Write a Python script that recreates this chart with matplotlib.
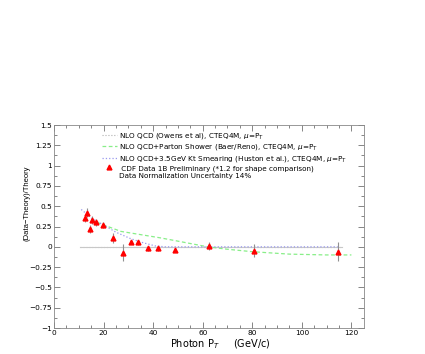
import numpy as np
import matplotlib.pyplot as plt

# CDF data (x1.2) - photon pT and (Data-Theory)/Theory
pt = [12.4, 13.5, 14.6, 15.5, 17.0, 19.8, 23.8, 27.8, 31.0, 33.9, 37.9, 41.9, 48.9, 62.4, 80.7, 114.6]
val = [0.35, 0.42, 0.215, 0.33, 0.30, 0.27, 0.11, -0.07, 0.06, 0.055, -0.02, -0.02, -0.04, 0.015, -0.05, -0.06]
err = [0.04, 0.055, 0.05, 0.05, 0.04, 0.04, 0.06, 0.11, 0.03, 0.03, 0.03, 0.03, 0.025, 0.05, 0.08, 0.12]

# NLO QCD (Owens) reference
owens_pt = [10.5, 116.3]
owens_val = [0.0, 0.0]

# parton shower (Baer/Reno)
ps_pt = [15, 20, 27, 35, 43, 50, 62, 70, 80, 95, 110, 120]
ps_val = [0.33, 0.27, 0.19, 0.15, 0.11, 0.07, 0.0, -0.03, -0.06, -0.09, -0.10, -0.10]

# kt smearing (Huston)
kt_pt = [11.0, 13, 15, 17.5, 20, 25, 31, 36, 41, 45, 50, 70, 90, 114.5]
kt_val = [0.46, 0.41, 0.36, 0.31, 0.27, 0.18, 0.10, 0.05, 0.01, 0.0, 0.0, 0.0, 0.0, 0.0]

fig = plt.figure(figsize=(4.25, 3.54), dpi=100)
ax = fig.add_axes([0.127, 0.0734, 0.729, 0.5734])

l1, = ax.plot(owens_pt, owens_val, color='#b0b0b0', lw=0.8, ls=':')
ax.plot(owens_pt, owens_val, color='#c8c8c8', lw=0.8)
l2, = ax.plot(ps_pt, ps_val, color='#88ee88', lw=0.9, ls=(0, (3, 2)))
l3, = ax.plot(kt_pt, kt_val, color='#9999ee', lw=0.9, ls=':')
ax.errorbar(pt, val, yerr=err, fmt='none', ecolor='#909090', elinewidth=0.8)
l4, = ax.plot(pt, val, '^', color='red', ms=3.5, mec='red', ls='none')
l5, = ax.plot([], [], ls='none')

ax.legend([l1, l2, l3, l4, l5],
          ['NLO QCD (Owens et al), CTEQ4M, $\\mu$=P$_T$',
           'NLO QCD+Parton Shower (Baer/Reno), CTEQ4M, $\\mu$=P$_T$',
           'NLO QCD+3.5GeV Kt Smearing (Huston et al.), CTEQ4M, $\\mu$=P$_T$',
           ' CDF Data 1B Preliminary (*1.2 for shape comparison)',
           'Data Normalization Uncertainty 14%'],
          loc='upper left', bbox_to_anchor=(0.232, 0.64), bbox_transform=fig.transFigure,
          frameon=False, fontsize=5.2, handlelength=2.0, handletextpad=0.35,
          labelspacing=0.18, borderpad=0)

ax.set_xlim(0, 125)
ax.set_ylim(-1, 1.5)
ax.set_xticks(np.arange(0, 121, 20))
ax.set_xticks(np.arange(0, 125, 5), minor=True)
ax.set_yticks(np.arange(-1, 1.51, 0.25))
ax.set_yticklabels(['\u22121', '\u22120.75', '\u22120.5', '\u22120.25', '0', '0.25', '0.5', '0.75', '1', '1.25', '1.5'])
ax.set_yticks(np.arange(-1, 1.51, 0.125), minor=True)
ax.tick_params(which='both', direction='in', top=True, right=True, labelsize=5.3, colors='#555555',
               labelcolor='black', width=0.5, pad=1.5)
ax.tick_params(which='major', length=4)
ax.tick_params(which='minor', length=2.5)
for s in ax.spines.values():
    s.set_color('#888888')
    s.set_linewidth(0.6)

fig.text(0.063, 0.427, '(Data\u2212Theory)/Theory', rotation=90, ha='center', va='center',
         fontsize=5.5, family='Liberation Sans')
fig.text(0.518, 0.028, 'Photon P$_T$     (GeV/c)', ha='center', va='center', fontsize=7)

fig.savefig('out.png', dpi=100)
